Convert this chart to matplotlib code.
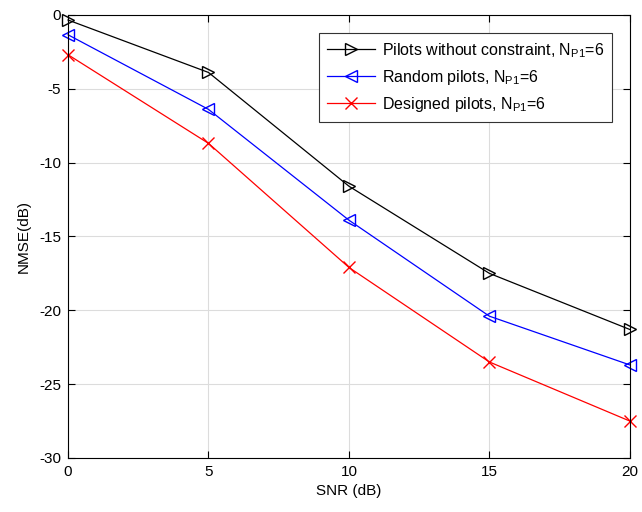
import numpy as np
import matplotlib.pyplot as plt

plt.rcParams['font.family'] = ['Liberation Sans', 'DejaVu Sans']
plt.rcParams['axes.unicode_minus'] = False
plt.rcParams['mathtext.fontset'] = 'custom'
plt.rcParams['mathtext.rm'] = 'Liberation Sans'

snr = [0, 5, 10, 15, 20]
nmse_free = [-0.35, -3.9, -11.6, -17.5, -21.3]
nmse_random = [-1.35, -6.4, -13.9, -20.4, -23.7]
nmse_designed = [-2.7, -8.7, -17.1, -23.5, -27.5]

fig = plt.figure(figsize=(6.42, 5.12), dpi=100)
ax = fig.add_axes([0.106, 0.1055, 0.875, 0.8655])

ax.plot(snr, nmse_free, color='k', marker='>', mfc='none', ms=8, lw=0.9,
        label='Pilots without constraint, N$_{\\mathrm{P1}}$=6', clip_on=False)
ax.plot(snr, nmse_random, color='b', marker='<', mfc='none', ms=8, lw=0.9,
        label='Random pilots, N$_{\\mathrm{P1}}$=6', clip_on=False)
ax.plot(snr, nmse_designed, color='r', marker='x', ms=8, lw=0.9,
        label='Designed pilots, N$_{\\mathrm{P1}}$=6', clip_on=False)

ax.set_xlim(0, 20)
ax.set_ylim(-30, 0)
ax.set_xticks([0, 5, 10, 15, 20])
ax.set_yticks(np.arange(-30, 1, 5))
ax.grid(True, color='#dcdcdc', lw=0.8)
ax.tick_params(direction='in', top=True, right=True, labelsize=11, length=5, pad=5)
for s in ax.spines.values():
    s.set_linewidth(0.8)
ax.set_xlabel('SNR (dB)', fontsize=11, labelpad=4)
ax.set_ylabel('NMSE(dB)', fontsize=11, labelpad=6)

# legend box placed like the MATLAB one
leg = ax.legend(loc='upper right', bbox_to_anchor=(0.968, 0.959), borderaxespad=0,
                fontsize=11.5, fancybox=False, edgecolor='#333333', framealpha=1,
                handlelength=3.0, handletextpad=0.4, borderpad=0.5, labelspacing=0.5)
leg.get_frame().set_linewidth(0.8)

fig.savefig('out.png', dpi=100)
